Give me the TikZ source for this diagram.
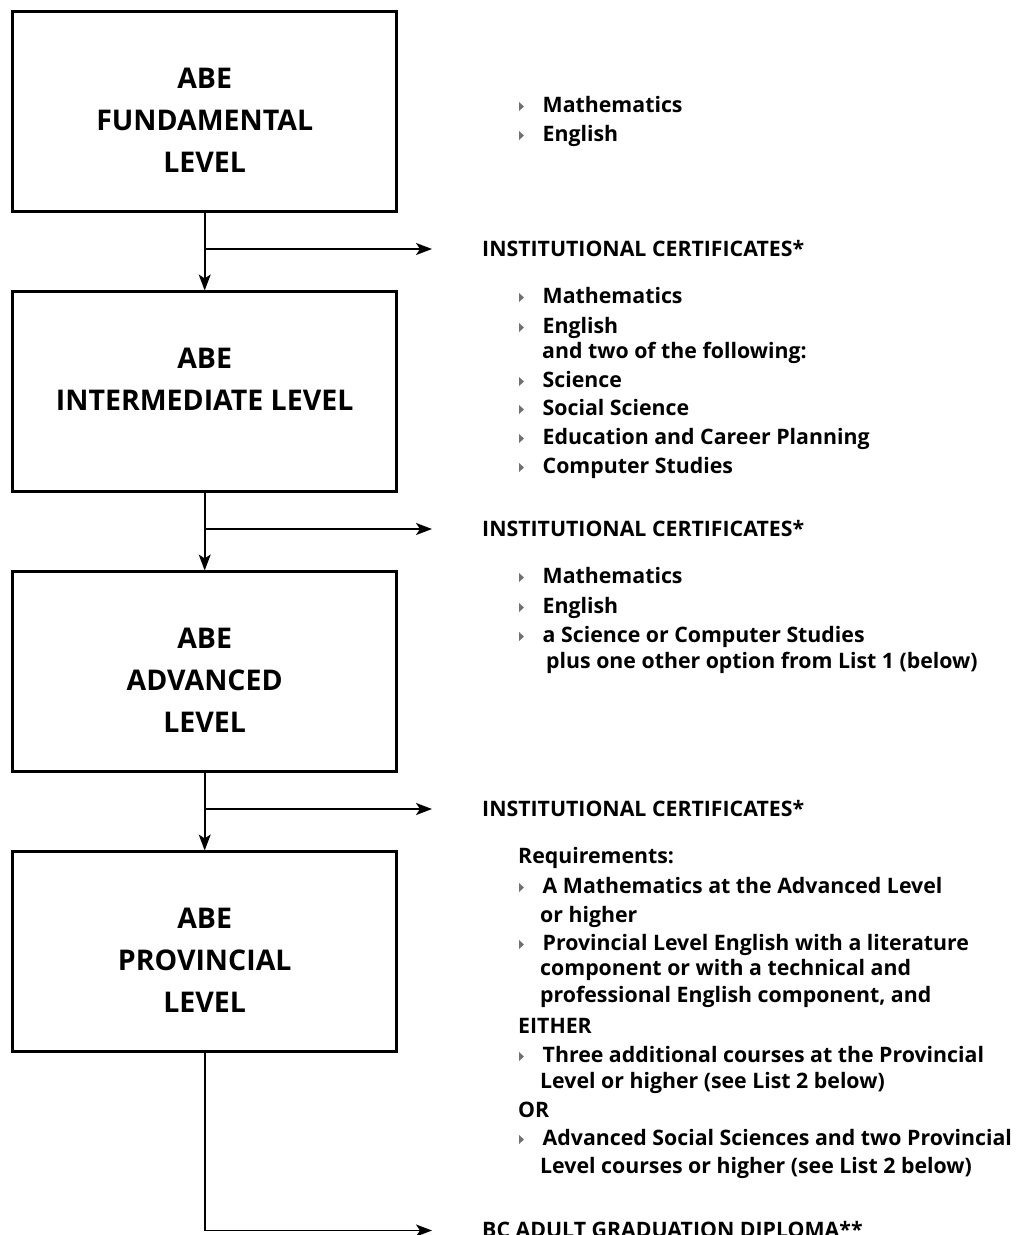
\documentclass[tikz,border=0pt]{standalone}
\usepackage{fontspec}
\setmainfont{Open Sans}
\usepackage{tikz}
\usetikzlibrary{positioning, arrows.meta}

\definecolor{bulgray}{RGB}{112,112,112}
\tikzset{
  levelbox/.style={draw, line width=2.5pt, minimum width=384pt, minimum height=200pt, inner sep=0pt},
  boxtxt/.style={anchor=base, inner sep=0pt, font=\fontsize{28.5}{32}\selectfont\bfseries},
  itm/.style={anchor=base west, inner sep=0pt, font=\fontsize{21.3}{25}\selectfont\bfseries},
  conn/.style={line width=1.8pt, -{Stealth[length=16pt, width=12pt, inset=4pt]}}
}
\newcommand{\bul}[1]{\fill[bulgray] ([xshift=-23.5pt,yshift=1pt]#1.base west) -- ++(5,-4.5) -- ++(-5,-4.5) -- cycle;}

\begin{document}
\begin{tikzpicture}[x=1pt,y=-1pt]
\useasboundingbox (0,0) rectangle (1016,1235);

% Level boxes
\node[levelbox] (fund) at (204.7,111.7) {};
\node[levelbox, below=77.5pt of fund] (inter) {};
\node[levelbox, below=77.5pt of inter] (adv) {};
\node[levelbox, below=77.5pt of adv] (prov) {};

% Box texts
\node[boxtxt] (fundA) at ([yshift=-78.5pt]fund.north) {ABE};
\node[boxtxt] (fundB) at ([yshift=-120pt]fund.north) {FUNDAMENTAL};
\node[boxtxt] (fundC) at ([yshift=-162pt]fund.north) {LEVEL};
\node[boxtxt] (interA) at ([yshift=-78.5pt]inter.north) {ABE};
\node[boxtxt] (interB) at ([yshift=-120pt]inter.north) {INTERMEDIATE LEVEL};
\node[boxtxt] (advA) at ([yshift=-78.5pt]adv.north) {ABE};
\node[boxtxt] (advB) at ([yshift=-120pt]adv.north) {ADVANCED};
\node[boxtxt] (advC) at ([yshift=-162pt]adv.north) {LEVEL};
\node[boxtxt] (provA) at ([yshift=-78.5pt]prov.north) {ABE};
\node[boxtxt] (provB) at ([yshift=-120pt]prov.north) {PROVINCIAL};
\node[boxtxt] (provC) at ([yshift=-162pt]prov.north) {LEVEL};

% Arrow ends
\coordinate (e1) at (432,249);
\coordinate (e2) at (432,529);
\coordinate (e3) at (432,809);
\coordinate (e4) at (432,1230.5);

% Connectors
\draw[conn] (fund.south) -- (inter.north);
\draw[conn] (fund.south |- e1) -- (e1);
\draw[conn] (inter.south) -- (adv.north);
\draw[conn] (inter.south |- e2) -- (e2);
\draw[conn] (adv.south) -- (prov.north);
\draw[conn] (adv.south |- e3) -- (e3);
\draw[conn] (prov.south) |- (e4);

% Fundamental courses
\node[itm] (f1) at (542.5,112) {Mathematics};
\node[itm] (f2) at (542.5,141) {English};
\bul{f1} \bul{f2}
\node[itm] (inst1) at (482,256.5) {INSTITUTIONAL CERTIFICATES*};

% Intermediate courses
\node[itm] (i1) at (542.5,303) {Mathematics};
\node[itm] (i2) at (542.5,333) {English};
\node[itm] (i3) at (542,358) {and two of the following:};
\node[itm] (i4) at (542.5,387) {Science};
\node[itm] (i5) at (542.5,415) {Social Science};
\node[itm] (i6) at (542.5,444) {Education and Career Planning};
\node[itm] (i7) at (542.5,473) {Computer Studies};
\bul{i1} \bul{i2} \bul{i4} \bul{i5} \bul{i6} \bul{i7}
\node[itm] (inst2) at (482,536.5) {INSTITUTIONAL CERTIFICATES*};

% Advanced courses
\node[itm] (a1) at (542.5,583) {Mathematics};
\node[itm] (a2) at (542.5,613) {English};
\node[itm] (a3) at (542.5,642) {a Science or Computer Studies};
\node[itm] (a4) at (546,668) {plus one other option from List 1 (below)};
\bul{a1} \bul{a2} \bul{a3}
\node[itm] (inst3) at (482,816.5) {INSTITUTIONAL CERTIFICATES*};

% Provincial requirements
\node[itm] (p1) at (518,863) {Requirements:};
\node[itm] (p2) at (542.5,893) {A Mathematics at the Advanced Level};
\node[itm] (p3) at (540,922) {or higher};
\node[itm] (p4) at (542.5,950) {Provincial Level English with a literature};
\node[itm] (p5) at (540,975) {component or with a technical and};
\node[itm] (p6) at (540,1002) {professional English component, and};
\node[itm] (p7) at (518,1033) {EITHER};
\node[itm] (p8) at (542.5,1062) {Three additional courses at the Provincial};
\node[itm] (p9) at (540,1088) {Level or higher (see List 2 below)};
\node[itm] (p10) at (518,1117) {OR};
\node[itm] (p11) at (542.5,1145) {Advanced Social Sciences and two Provincial};
\node[itm] (p12) at (540,1173) {Level courses or higher (see List 2 below)};
\bul{p2} \bul{p4} \bul{p8} \bul{p11}
\node[itm] (dipl) at (482,1237) {BC ADULT GRADUATION DIPLOMA**};

\end{tikzpicture}
\end{document}
